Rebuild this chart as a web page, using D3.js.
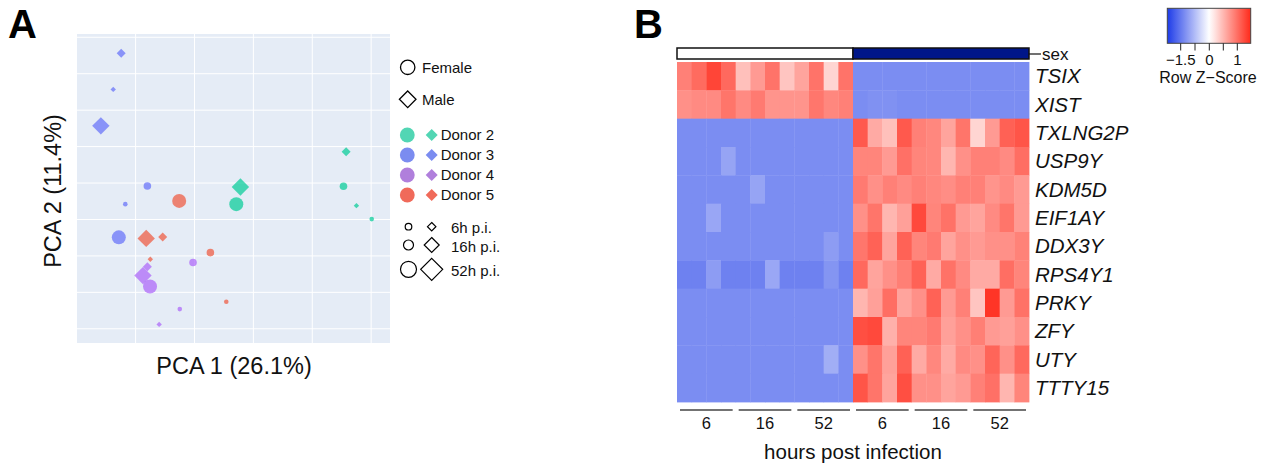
<!DOCTYPE html>
<html>
<head>
<meta charset="utf-8">
<script src="https://cdn.jsdelivr.net/npm/d3@7"></script>
<style>
  body { margin: 0; background: #ffffff; }
  svg { display: block; font-family: "Liberation Sans", Arial, Helvetica, sans-serif; }
</style>
</head>
<body>
<svg id="fig" width="1268" height="466"></svg>
<script>
// ---------- Panel A: PCA of samples ----------
const donors = ["Donor 2", "Donor 3", "Donor 4", "Donor 5"];
const donorColors = ["#00cc96", "#636efa", "#ab63fa", "#ef553b"];
const donorKeyColors = ["#52d6b4", "#7b8cf0", "#b07fdc", "#f06a5a"];
const timeLabels = ["6h p.i.", "16h p.i.", "52h p.i."];
const sexLabels = ["Female", "Male"];

// one entry per sample: donor index, sex, time index, PC1, PC2
const pcaDonor = [1, 1, 1, 1, 1, 1, 0, 0, 0, 0, 0, 0, 3, 3, 3, 3, 3, 3, 2, 2, 2, 2, 2, 2];
const pcaSex   = ["Male", "Male", "Male", "Female", "Female", "Female",
                  "Male", "Male", "Male", "Female", "Female", "Female",
                  "Male", "Male", "Male", "Female", "Female", "Female",
                  "Male", "Male", "Male", "Female", "Female", "Female"];
const pcaTime  = [0, 1, 2, 0, 1, 2, 0, 1, 2, 0, 1, 2, 0, 1, 2, 0, 1, 2, 0, 1, 2, 0, 1, 2];
const pc1 = [-47.6, -44.9, -51.8, -43.5, -36.0, -45.7,
              35.0,  31.5,  -4.4,  40.2,  30.6,  -5.8,
             -35.0, -30.8, -36.4,  -9.2, -14.6, -25.2,
             -32.0, -36.0, -37.5, -25.0, -20.5, -35.1];
const pc2 = [ 25.7,  35.6,  15.7,  -5.8,  -0.8, -14.9,
              -6.2,   8.6,  -1.1,  -9.9,  -0.9,  -5.8,
             -20.9, -14.8, -15.2, -32.6, -19.1,  -4.9,
             -38.8, -23.0, -25.4, -34.6, -21.8, -28.4];
const pc1Grid = [-40, -20, 0, 20, 40];
const pc2Grid = [-40, -30, -20, -10, 0, 10, 20, 30, 40];

// ---------- Panel B: sex-linked gene heatmap ----------
const genes = ["TSIX", "XIST", "TXLNG2P", "USP9Y", "KDM5D", "EIF1AY",
               "DDX3Y", "RPS4Y1", "PRKY", "ZFY", "UTY", "TTTY15"];
const sampleSex = ["F","F","F","F","F","F","F","F","F","F","F","F",
                   "M","M","M","M","M","M","M","M","M","M","M","M"];
const sampleHours = [6,6,6,6,16,16,16,16,52,52,52,52, 6,6,6,6,16,16,16,16,52,52,52,52];
const hourGroups = ["6", "16", "52", "6", "16", "52"];
const zScores = [
  [0.88,1.03,1.29,1.04,0.44,0.70,0.97,0.40,0.63,0.97,0.29,0.97, -1.29,-1.29,-1.29,-1.29,-1.29,-1.29,-1.29,-1.29,-1.29,-1.29,-1.29,-1.29],
  [0.77,0.81,0.81,0.96,0.81,0.92,0.74,0.74,0.74,0.95,0.83,0.88, -1.29,-1.24,-1.24,-1.29,-1.29,-1.29,-1.29,-1.29,-1.29,-1.29,-1.29,-1.29],
  [-1.29,-1.29,-1.29,-1.29,-1.29,-1.29,-1.29,-1.29,-1.29,-1.29,-1.29,-1.29, 1.15,0.59,0.44,1.15,0.88,0.83,0.63,0.96,0.29,0.70,1.10,1.18],
  [-1.29,-1.29,-1.29,-1.03,-1.29,-1.29,-1.29,-1.29,-1.29,-1.29,-1.29,-1.29, 0.85,0.85,0.70,0.99,0.85,0.83,0.51,0.77,0.88,0.88,0.81,1.01],
  [-1.29,-1.29,-1.29,-1.29,-1.29,-1.03,-1.29,-1.29,-1.29,-1.29,-1.29,-1.29, 0.92,0.77,0.88,0.81,0.88,0.83,0.79,0.88,0.88,0.74,0.81,0.70],
  [-1.29,-1.29,-1.00,-1.29,-1.29,-1.29,-1.29,-1.29,-1.29,-1.29,-1.29,-1.29, 0.77,0.96,0.51,0.66,1.26,0.85,0.98,0.70,0.63,0.81,0.96,0.70],
  [-1.29,-1.29,-1.29,-1.29,-1.29,-1.29,-1.29,-1.29,-1.29,-1.29,-1.12,-1.29, 0.95,1.09,0.63,1.09,0.85,0.92,0.63,0.77,0.70,0.77,0.77,0.87],
  [-1.42,-1.42,-1.12,-1.42,-1.42,-1.42,-0.99,-1.42,-1.42,-1.42,-1.20,-1.42, 1.04,0.63,0.77,0.89,1.09,0.59,0.98,0.81,0.59,0.59,1.01,0.85],
  [-1.29,-1.29,-1.29,-1.29,-1.29,-1.29,-1.29,-1.29,-1.29,-1.29,-1.29,-1.29, 0.51,0.66,1.01,0.63,0.77,1.09,0.70,0.88,0.40,1.40,0.70,0.98],
  [-1.29,-1.29,-1.29,-1.29,-1.29,-1.29,-1.29,-1.29,-1.29,-1.29,-1.29,-1.29, 1.22,1.26,0.55,0.85,0.85,0.92,0.66,0.77,0.89,0.70,0.66,0.77],
  [-1.29,-1.29,-1.29,-1.29,-1.29,-1.29,-1.29,-1.29,-1.29,-1.29,-0.92,-1.29, 0.77,0.96,0.66,1.10,0.59,0.83,0.59,0.81,0.77,1.07,0.77,1.04],
  [-1.29,-1.29,-1.29,-1.29,-1.29,-1.29,-1.29,-1.29,-1.29,-1.29,-1.29,-1.29, 1.18,0.96,0.63,1.22,0.77,0.77,0.63,0.70,0.88,0.99,0.51,0.85]
];
const keyTicks = [-1.5, -0.75, 0, 0.5, 1];
const keyTickLabels = ["\u22121.5", "", "0", "", "1"];

const svg = d3.select("#fig");

// ================= Panel A =================
const pA = { left: 77, right: 390, top: 34, bottom: 343 };
const x = d3.scaleLinear().domain([-59.9, 46.4]).range([pA.left, pA.right]);
const y = d3.scaleLinear().domain([-43.9, 40.9]).range([pA.bottom, pA.top]);

svg.append("rect")
  .attr("x", pA.left).attr("y", pA.top)
  .attr("width", pA.right - pA.left).attr("height", pA.bottom - pA.top)
  .attr("fill", "#e5ecf6");

svg.append("g").selectAll("line").data(pc1Grid).join("line")
  .attr("x1", d => x(d)).attr("x2", d => x(d))
  .attr("y1", pA.top).attr("y2", pA.bottom)
  .attr("stroke", "#ffffff").attr("stroke-width", 1);
svg.append("g").selectAll("line").data(pc2Grid).join("line")
  .attr("y1", d => y(d)).attr("y2", d => y(d))
  .attr("x1", pA.left).attr("x2", pA.right)
  .attr("stroke", "#ffffff").attr("stroke-width", 1);

const circleR = [2.3, 3.8, 7.0];
const diamondH = [2.7, 4.5, 8.7];
const diamondPath = h => `M0,${-h}L${h},0L0,${h}L${-h},0Z`;

const samples = pc1.map((v, i) => ({
  pc1: v, pc2: pc2[i], donor: pcaDonor[i], sex: pcaSex[i], time: pcaTime[i]
}));
const ptLayer = svg.append("g");
// males (diamonds) underneath, females (circles) drawn on top
ptLayer.selectAll("path.male").data(samples.filter(d => d.sex === "Male")).join("path")
  .attr("class", "male")
  .attr("transform", d => `translate(${x(d.pc1)},${y(d.pc2)})`)
  .attr("d", d => diamondPath(diamondH[d.time]))
  .attr("fill", d => donorColors[d.donor])
  .attr("fill-opacity", 0.7);
ptLayer.selectAll("circle.female").data(samples.filter(d => d.sex === "Female")).join("circle")
  .attr("class", "female")
  .attr("cx", d => x(d.pc1)).attr("cy", d => y(d.pc2))
  .attr("r", d => circleR[d.time])
  .attr("fill", d => donorColors[d.donor])
  .attr("fill-opacity", 0.7);

// axis titles
svg.append("text").attr("x", 234).attr("y", 374)
  .attr("text-anchor", "middle").attr("font-size", 23.5).attr("fill", "#111")
  .text("PCA 1 (26.1%)");
svg.append("text").attr("transform", "translate(61,191) rotate(-90)")
  .attr("text-anchor", "middle").attr("font-size", 23.5).attr("fill", "#111")
  .text("PCA 2 (11.4%)");

// legend
const lg = svg.append("g").attr("font-size", 15).attr("fill", "#111");
lg.append("circle").attr("cx", 407.7).attr("cy", 67.3).attr("r", 7.2)
  .attr("fill", "none").attr("stroke", "#000").attr("stroke-width", 1.3);
lg.append("text").attr("x", 422).attr("y", 72.5).text(sexLabels[0]);
lg.append("path").attr("transform", "translate(407.7,99.3)").attr("d", diamondPath(8.3))
  .attr("fill", "none").attr("stroke", "#000").attr("stroke-width", 1.3);
lg.append("text").attr("x", 422).attr("y", 104.5).text(sexLabels[1]);

donors.forEach((name, i) => {
  const cy = 135 + i * 20;
  lg.append("circle").attr("cx", 407.3).attr("cy", cy).attr("r", 7.4).attr("fill", donorKeyColors[i]);
  lg.append("path").attr("transform", `translate(431.7,${cy})`).attr("d", diamondPath(6))
    .attr("fill", donorKeyColors[i]);
  lg.append("text").attr("x", 440.7).attr("y", cy + 5.3).text(name);
});

const sizeKeyY = [226.7, 245, 269.3];
const sizeKeyR = [3.3, 5.0, 8.0];
const sizeKeyH = [4.2, 7.5, 11];
timeLabels.forEach((lab, i) => {
  lg.append("circle").attr("cx", 408.5).attr("cy", sizeKeyY[i]).attr("r", sizeKeyR[i])
    .attr("fill", "none").attr("stroke", "#000").attr("stroke-width", 1.2);
  lg.append("path").attr("transform", `translate(431.7,${sizeKeyY[i]})`).attr("d", diamondPath(sizeKeyH[i]))
    .attr("fill", "none").attr("stroke", "#000").attr("stroke-width", 1.2);
  lg.append("text").attr("x", 451).attr("y", sizeKeyY[i] + 6.5).text(lab);
});

// panel letters
svg.append("text").attr("x", 8).attr("y", 38).attr("font-size", 40).attr("font-weight", "bold").text("A");
svg.append("text").attr("x", 634).attr("y", 38).attr("font-size", 40).attr("font-weight", "bold").text("B");

// ================= Panel B =================
const hm = { left: 677, right: 1029, top: 62, bottom: 402 };
const cols = d3.range(sampleSex.length);
const xb = d3.scaleBand().domain(cols).range([hm.left, hm.right]);
const yb = d3.scaleBand().domain(genes).range([hm.top, hm.bottom]);

// Row Z-score colour ramp, shared with the colour key
const keyX = d3.scaleLinear().domain([-1.5, 0, 1]).range([1180.7, 1209.3, 1237.3]);
const keyLeft = 1167.3, keyRight = 1250.7;
const zMin = keyX.invert(keyLeft), zMax = keyX.invert(keyRight);
const color = d3.scaleLinear().domain([zMin, 0, zMax])
  .range(["#1e3ce8", "#ffffff", "#ff2a1a"]).clamp(true);

const cells = [];
genes.forEach((g, r) => cols.forEach(c => cells.push({ gene: g, col: c, z: zScores[r][c] })));
svg.append("g").selectAll("rect").data(cells).join("rect")
  .attr("x", d => xb(d.col)).attr("y", d => yb(d.gene))
  .attr("width", xb.bandwidth() + 0.4).attr("height", yb.bandwidth() + 0.4)
  .attr("fill", d => color(d.z));

// sex annotation bar
const sexBarY = 48, sexBarH = 11;
const sexGroups = [
  { sex: "F", fill: "#ffffff" },
  { sex: "M", fill: "#001689" }
].map(s => {
  const idx = cols.filter(c => sampleSex[c] === s.sex);
  return { ...s, x0: xb(idx[0]), x1: xb(idx[idx.length - 1]) + xb.bandwidth() };
});
svg.append("g").selectAll("rect").data(sexGroups).join("rect")
  .attr("x", d => d.x0).attr("y", sexBarY)
  .attr("width", d => d.x1 - d.x0).attr("height", sexBarH)
  .attr("fill", d => d.fill).attr("stroke", "#111").attr("stroke-width", 1.5);
svg.append("line").attr("x1", hm.right).attr("x2", 1041)
  .attr("y1", sexBarY + 6).attr("y2", sexBarY + 6).attr("stroke", "#111").attr("stroke-width", 1.2);
svg.append("text").attr("x", 1042).attr("y", 60).attr("font-size", 17).attr("fill", "#111").text("sex");

// gene labels
svg.append("g").selectAll("text").data(genes).join("text")
  .attr("x", hm.right + 6).attr("y", d => yb(d) + yb.bandwidth() / 2 + 7)
  .attr("font-size", 20.5).attr("font-style", "italic").attr("fill", "#111")
  .text(d => d);

// time group brackets and labels
const groupIdx = d3.range(hourGroups.length);
const groupCols = 4;
const gStart = i => xb(i * groupCols);
const gEnd = i => xb(i * groupCols + groupCols - 1) + xb.bandwidth();
svg.append("g").selectAll("line").data(groupIdx).join("line")
  .attr("x1", i => gStart(i) + 3).attr("x2", i => gEnd(i) - 3)
  .attr("y1", 410).attr("y2", 410)
  .attr("stroke", "#444").attr("stroke-width", 1.5);
svg.append("g").selectAll("text").data(groupIdx).join("text")
  .attr("x", i => (gStart(i) + gEnd(i)) / 2).attr("y", 428.5)
  .attr("text-anchor", "middle").attr("font-size", 16.5).attr("fill", "#111")
  .text(i => hourGroups[i]);
svg.append("text").attr("x", 853).attr("y", 458.5)
  .attr("text-anchor", "middle").attr("font-size", 20.5).attr("fill", "#111")
  .text("hours post infection");

// colour key
const defs = svg.append("defs");
const grad = defs.append("linearGradient").attr("id", "zkey")
  .attr("x1", "0%").attr("x2", "100%").attr("y1", "0%").attr("y2", "0%");
d3.range(0, 1.0001, 0.05).forEach(t => {
  const v = keyX.invert(keyLeft + t * (keyRight - keyLeft));
  grad.append("stop").attr("offset", `${t * 100}%`).attr("stop-color", color(v));
});
svg.append("rect").attr("x", keyLeft).attr("y", 8.3)
  .attr("width", keyRight - keyLeft).attr("height", 35)
  .attr("fill", "url(#zkey)").attr("stroke", "#444").attr("stroke-width", 1);
const keyAxis = svg.append("g");
keyAxis.selectAll("line").data(keyTicks).join("line")
  .attr("x1", d => keyX(d)).attr("x2", d => keyX(d))
  .attr("y1", 43.3).attr("y2", 50.5).attr("stroke", "#222").attr("stroke-width", 1);
keyAxis.selectAll("text").data(keyTicks).join("text")
  .attr("x", d => keyX(d)).attr("y", 65)
  .attr("text-anchor", "middle").attr("font-size", 15).attr("fill", "#111")
  .text((d, i) => keyTickLabels[i]);
svg.append("text").attr("x", 1208).attr("y", 83)
  .attr("text-anchor", "middle").attr("font-size", 16).attr("fill", "#111")
  .text("Row Z\u2212Score");
</script>
</body>
</html>
